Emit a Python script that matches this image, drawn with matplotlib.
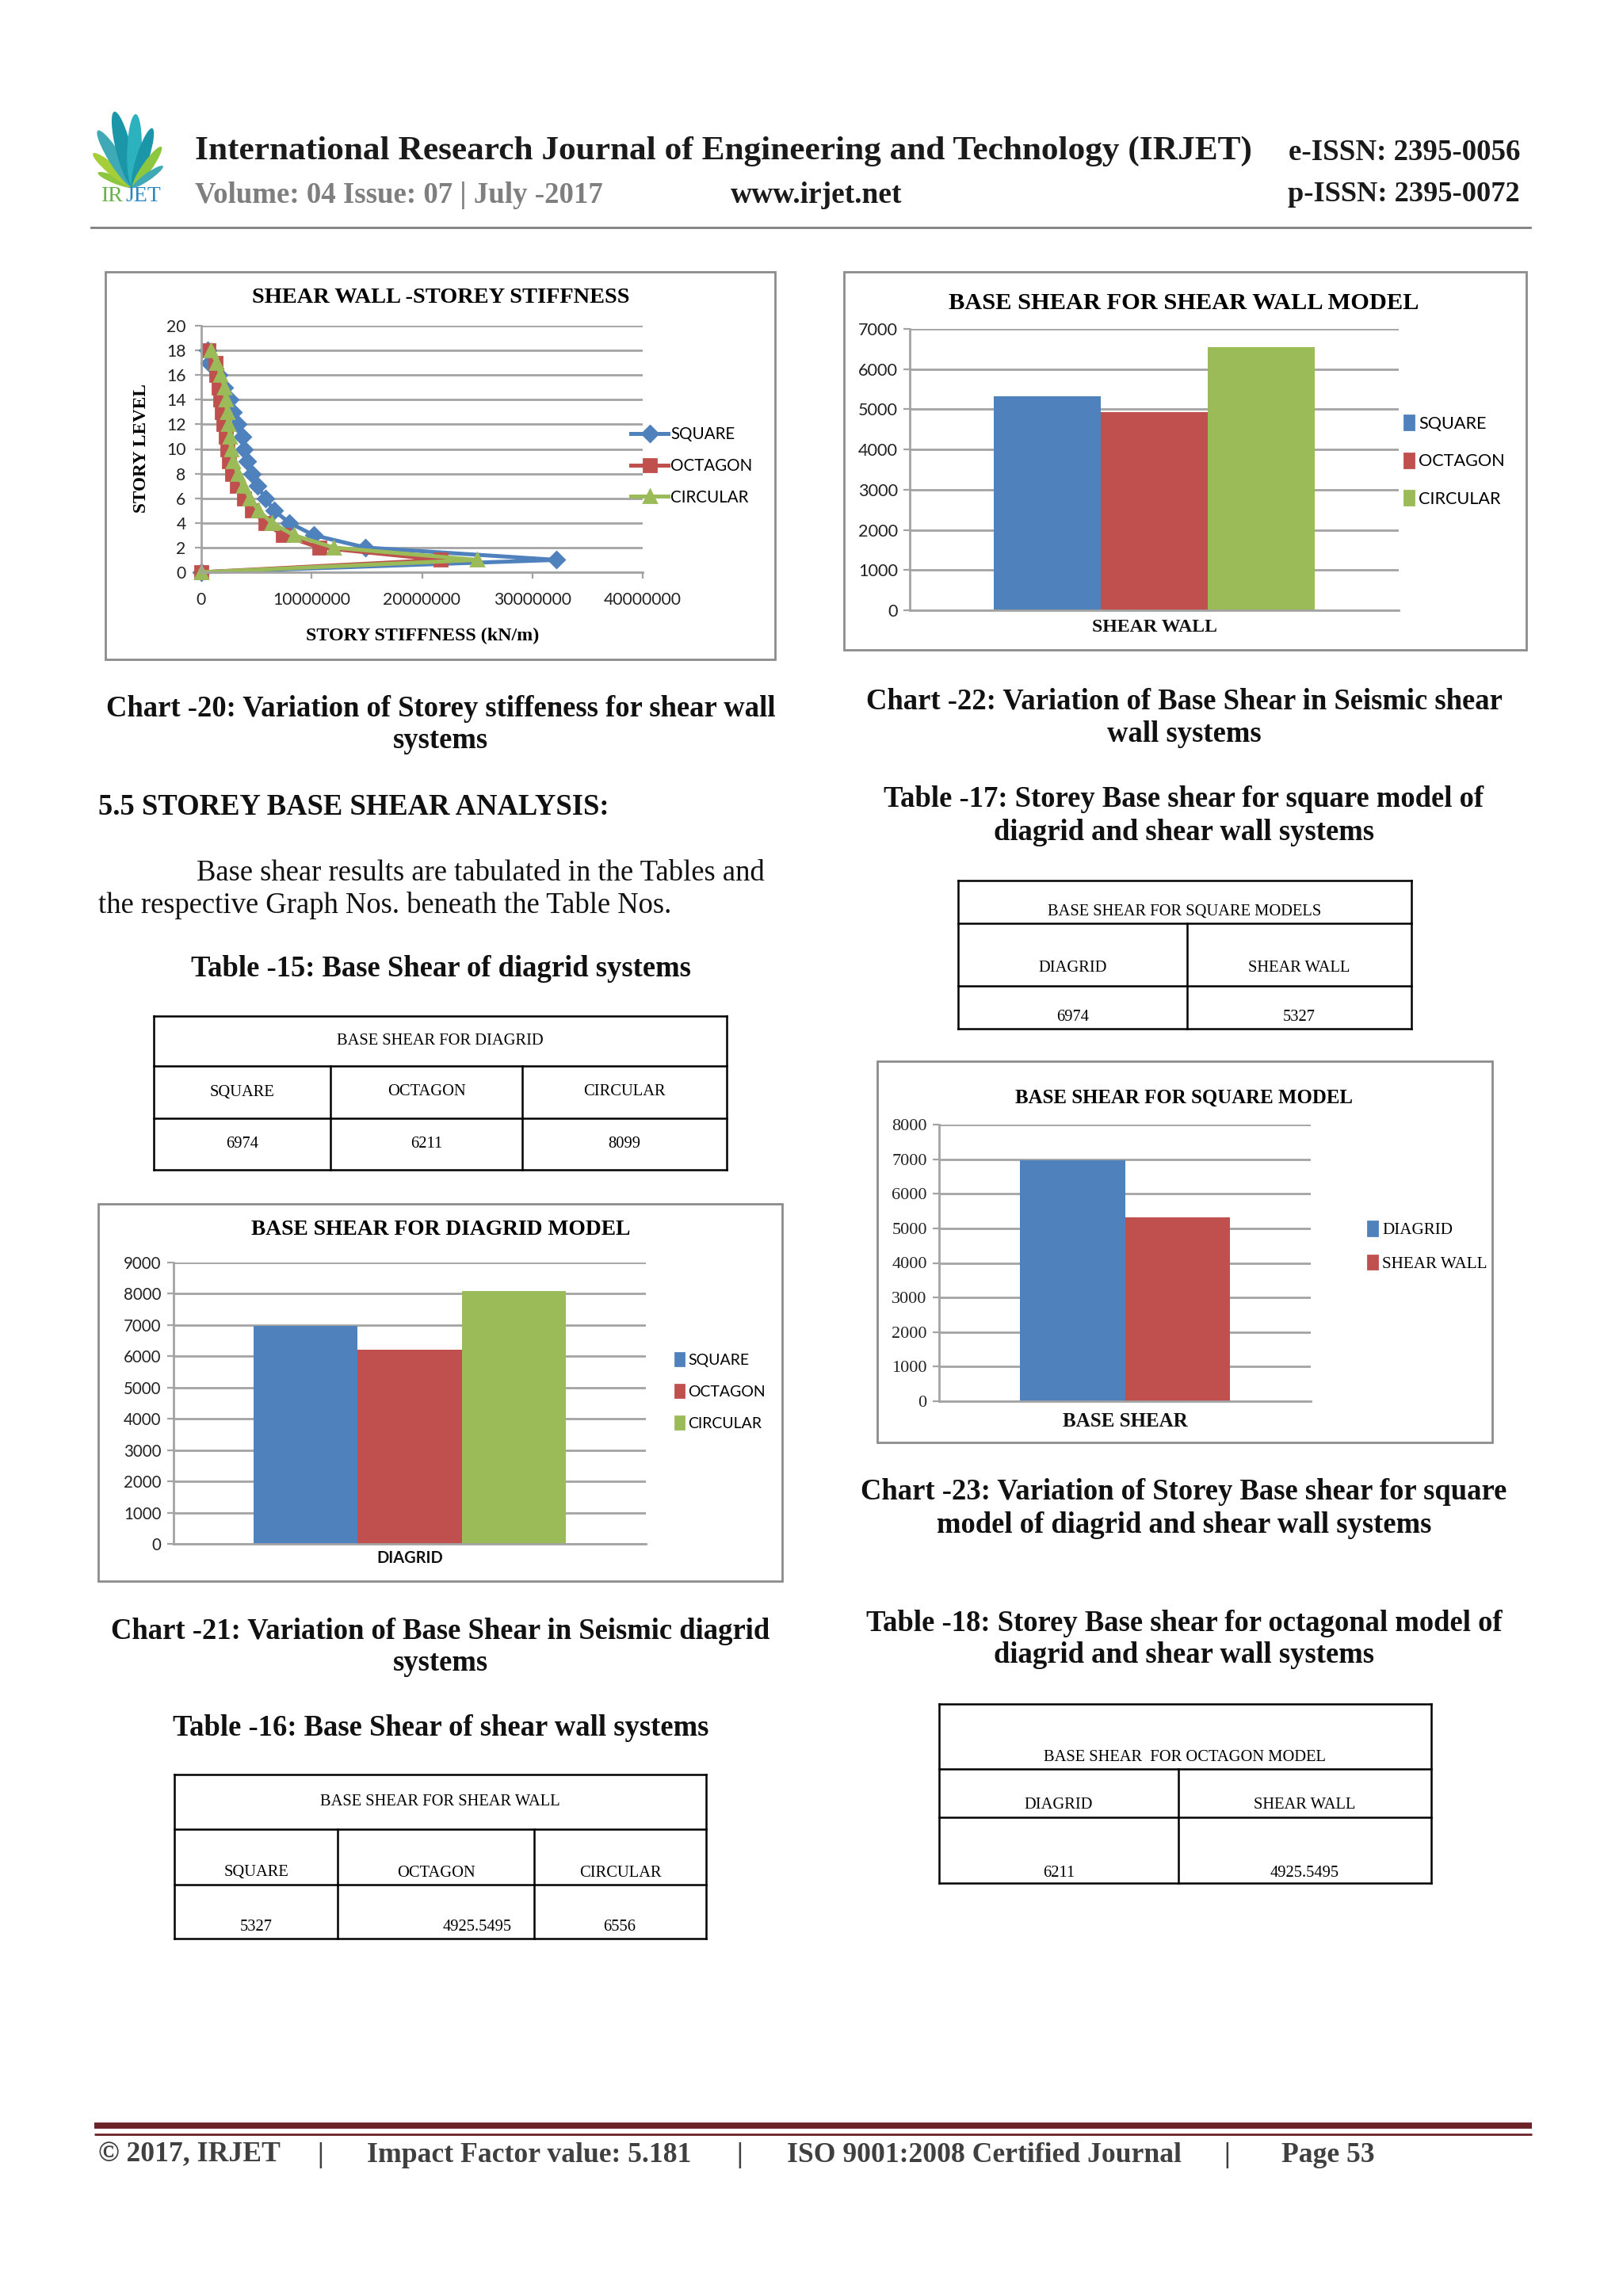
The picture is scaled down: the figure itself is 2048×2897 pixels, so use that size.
import math
import matplotlib
matplotlib.use("Agg")
import matplotlib.pyplot as plt
from matplotlib.patches import Rectangle, Ellipse, Patch

# ---------------- data ----------------
story_levels = list(range(19))
stiff_square = [0, 32200000, 14900000, 10200000, 8000000, 6600000, 5800000, 5100000,
                4600000, 4200000, 3900000, 3700000, 3300000, 2900000, 2600000, 2100000,
                1600000, 700000, 600000]
stiff_octagon = [0, 21700000, 10700000, 7400000, 5800000, 4600000, 3900000, 3200000,
                 2800000, 2500000, 2350000, 2200000, 2000000, 1900000, 1750000, 1600000,
                 1400000, 1270000, 670000]
stiff_circular = [0, 25000000, 12000000, 8400000, 6400000, 5200000, 4400000, 3800000,
                  3300000, 2900000, 2700000, 2600000, 2450000, 2350000, 2200000, 2100000,
                  1750000, 1400000, 860000]
stiff_xticks = [0, 10000000, 20000000, 30000000, 40000000]
level_ticks = list(range(0, 21, 2))

shapes = ["SQUARE", "OCTAGON", "CIRCULAR"]
systems = ["DIAGRID", "SHEAR WALL"]
diagrid_base_shear = [6974, 6211, 8099]
shearwall_base_shear = [5327, 4925.5495, 6556]
square_model_base_shear = [6974, 5327]
octagon_model_base_shear = [6211, 4925.5495]

series_colors = ["#4F81BD", "#C0504D", "#9BBB59"]
GRID = "#A3A3A3"

# ---------------- figure ----------------
W, H = 2048, 2897
DPI = 200
plt.rcParams["font.family"] = ["Liberation Serif", "DejaVu Sans"]
fig = plt.figure(figsize=(W / DPI, H / DPI), dpi=DPI)
fig.patch.set_facecolor("white")
bg = fig.add_axes([0, 0, 1, 1])
bg.set_xlim(0, W)
bg.set_ylim(H, 0)
bg.axis("off")
renderer = fig.canvas.get_renderer()


def px_rect(x0, y0, x1, y1):
    return [x0 / W, 1 - y1 / H, (x1 - x0) / W, (y1 - y0) / H]


def txt(x, y, s, size=10, ha="left", va="center", **kw):
    return bg.text(x, y, s, fontsize=size, ha=ha, va=va, **kw)


def fit(t, width):
    w = t.get_window_extent(renderer).width
    t.set_fontsize(t.get_fontsize() * width / w)
    return t.get_fontsize()


def fmt(v):
    return str(v)


# ---------------- header ----------------
base = (168, 236)
leaves = [(158, 48, "#8DC63F"), (140, 66, "#A6CE39"), (122, 84, "#3FA9B5"),
          (104, 98, "#1B96A8"), (88, 92, "#2CB1BE"), (72, 78, "#1B96A8"),
          (55, 62, "#8DC63F"), (35, 46, "#3FA9B5")]
for a, L, c in leaves:
    r = math.radians(a)
    cx = base[0] + math.cos(r) * L / 2
    cy = base[1] - math.sin(r) * L / 2
    bg.add_patch(Ellipse((cx, cy), L, L * 0.2, angle=-a, color=c, lw=0))
txt(128, 248, "IR", 10, color="#6AB04C")
txt(158, 248, "JET", 10, color="#2E86C1")

t = txt(246, 191, "International Research Journal of Engineering and Technology (IRJET)",
        15, fontweight="bold", color="#1A1A1A")
fit(t, 1332)
t = txt(1918, 193, "e-ISSN: 2395-0056", 12, ha="right", fontweight="bold", color="#1A1A1A")
fit(t, 292)
t = txt(1918, 246, "p-ISSN: 2395-0072", 12, ha="right", fontweight="bold", color="#1A1A1A")
fit(t, 292)
t = txt(246, 246, "Volume: 04 Issue: 07 | July -2017", 12, fontweight="bold", color="#7F7F7F")
fit(t, 516)
t = txt(922, 246, "www.irjet.net", 12, fontweight="bold", color="#1A1A1A")
fit(t, 216)
bg.plot([115, 1931], [287, 287], color="#7F7F7F", lw=1.0)

# ---------------- body text ----------------
cap_probe = txt(556, 894, "Chart -20: Variation of Storey stiffeness for shear wall", 11,
                ha="center", fontweight="bold", color="#111111")
CAP = fit(cap_probe, 845)


def cap(x, y, s, **kw):
    kw.setdefault("fontweight", "bold")
    return txt(x, y, s, CAP, color="#111111", **kw)


cap(556, 935, "systems", ha="center")
cap(124, 1019, "5.5 STOREY BASE SHEAR ANALYSIS:")
cap(248, 1102, "Base shear results are tabulated in the Tables and", fontweight="normal")
cap(124, 1143, "the respective Graph Nos. beneath the Table Nos.", fontweight="normal")
cap(556, 1222, "Table -15: Base Shear of diagrid systems", ha="center")
cap(556, 2058, "Chart -21: Variation of Base Shear in Seismic diagrid", ha="center")
cap(556, 2098, "systems", ha="center")
cap(556, 2180, "Table -16: Base Shear of shear wall systems", ha="center")

cap(1494, 885, "Chart -22: Variation of Base Shear in Seismic shear", ha="center")
cap(1494, 926, "wall systems", ha="center")
cap(1494, 1009, "Table -17: Storey Base shear for square model of", ha="center")
cap(1494, 1050, "diagrid and shear wall systems", ha="center")
cap(1494, 1883, "Chart -23: Variation of Storey Base shear for square", ha="center")
cap(1494, 1924, "model of diagrid and shear wall systems", ha="center")
cap(1494, 2048, "Table -18: Storey Base shear for octagonal model of", ha="center")
cap(1494, 2089, "diagrid and shear wall systems", ha="center")

# ---------------- tables ----------------
TFS = 7.4


def table(xs, ys):
    x0, x1 = xs[0], xs[-1]
    for y in ys:
        bg.plot([x0, x1], [y, y], color="black", lw=0.9, solid_capstyle="projecting")
    bg.plot([x0, x0], [ys[0], ys[-1]], color="black", lw=0.9)
    bg.plot([x1, x1], [ys[0], ys[-1]], color="black", lw=0.9)
    for x in xs[1:-1]:
        bg.plot([x, x], [ys[1], ys[-1]], color="black", lw=0.9)


# Table 15
xs = [194, 417, 659, 917]
table(xs, [1282, 1345, 1411, 1476])
txt(555, 1313, "BASE SHEAR FOR DIAGRID", TFS, ha="center")
for i in range(3):
    cx = (xs[i] + xs[i + 1]) / 2
    txt(cx, 1378, shapes[i], TFS, ha="center")
    txt(cx, 1443, fmt(diagrid_base_shear[i]), TFS, ha="center")

# Table 16
xs = [220, 426, 674, 891]
table(xs, [2239, 2308, 2378, 2446])
txt(555, 2274, "BASE SHEAR FOR SHEAR WALL", TFS, ha="center")
val_x = [323, 602, 782]
for i in range(3):
    cx = (xs[i] + xs[i + 1]) / 2
    txt(cx, 2363, shapes[i], TFS, ha="center")
    txt(val_x[i], 2432, fmt(shearwall_base_shear[i]), TFS, ha="center")

# Table 17
xs = [1209, 1498, 1781]
table(xs, [1111, 1165, 1244, 1298])
txt(1495, 1150, "BASE SHEAR FOR SQUARE MODELS", TFS, ha="center")
for i in range(2):
    cx = (xs[i] + xs[i + 1]) / 2
    txt(cx, 1222, systems[i], TFS, ha="center")
    txt(cx, 1283, fmt(square_model_base_shear[i]), TFS, ha="center")

# Table 18
xs = [1185, 1487, 1806]
table(xs, [2150, 2232, 2293, 2376])
txt(1495, 2217, "BASE SHEAR  FOR OCTAGON MODEL", TFS, ha="center")
for i in range(2):
    cx = (xs[i] + xs[i + 1]) / 2
    txt(cx, 2278, systems[i], TFS, ha="center")
    txt(cx, 2363, fmt(octagon_model_base_shear[i]), TFS, ha="center")

# ---------------- chart boxes ----------------
for (x0, y0, x1, y1) in [(133, 343, 978, 832), (1065, 343, 1926, 820),
                         (124, 1519, 987, 1995), (1107, 1339, 1883, 1820)]:
    bg.add_patch(Rectangle((x0, y0), x1 - x0, y1 - y0, fill=False, ec="#8C8C8C", lw=1.0))


def style_axes(ax, sans=True, size=7.6):
    for s in ["top", "right"]:
        ax.spines[s].set_visible(False)
    for s in ["left", "bottom"]:
        ax.spines[s].set_color(GRID)
        ax.spines[s].set_linewidth(1.0)
    ax.grid(axis="y", color=GRID, lw=1.0)
    ax.set_axisbelow(True)
    fam = ["Lato", "DejaVu Sans"] if sans else ["Liberation Serif", "DejaVu Sans"]
    for lab in ax.get_xticklabels() + ax.get_yticklabels():
        lab.set_family(fam)
        lab.set_fontsize(size)
        lab.set_color("#222222")


# ---------------- Chart 20: storey stiffness ----------------
ax1 = fig.add_axes(px_rect(254, 411, 811, 722))
markers = ["D", "s", "^"]
msizes = [5, 5.5, 6]
lines = []
for vals, c, m, ms, name in zip([stiff_square, stiff_octagon, stiff_circular],
                                series_colors, markers, msizes, shapes):
    ln, = ax1.plot(vals, story_levels, color=c, marker=m, ms=ms, lw=1.8,
                   label=name, clip_on=False)
    lines.append(ln)
ax1.set_xlim(0, 40000000)
ax1.set_ylim(0, 20)
ax1.set_xticks(stiff_xticks)
ax1.set_xticklabels([str(v) for v in stiff_xticks])
ax1.set_yticks(level_ticks)
ax1.set_yticklabels([str(v) for v in level_ticks])
ax1.tick_params(axis="x", length=3, color=GRID, pad=6)
ax1.tick_params(axis="y", length=3, color=GRID, pad=4)
style_axes(ax1, True, 7.6)
t = txt(556, 376, "SHEAR WALL -STOREY STIFFNESS", 9, ha="center", fontweight="bold")
fit(t, 478)
t = txt(533, 802, "STORY STIFFNESS (kN/m)", 8, ha="center", fontweight="bold")
fit(t, 294)
t = txt(178, 566, "STORY LEVEL", 8, ha="center", fontweight="bold", rotation=90)
t.set_fontsize(t.get_fontsize() * 163 / t.get_window_extent(renderer).height)
fig.legend(handles=lines, loc="center left", bbox_to_anchor=(796 / W, 1 - 588 / H),
           frameon=False, prop={"family": ["Lato"], "size": 7.4}, handlelength=2.3,
           handletextpad=0.15, labelspacing=0.95, borderaxespad=0, borderpad=0)


# ---------------- bar chart helper ----------------
def bar_chart(rect, values, labels, category, ymax, offsets, width, cat_fam, cat_size,
              cat_weight, cat_pad, tick_sans, tick_size, leg_anchor, leg_size, leg_fam,
              leg_spacing):
    ax = fig.add_axes(px_rect(*rect))
    handles = []
    for i, v in enumerate(values):
        ax.bar(offsets[i], v, width=width, color=series_colors[i], label=labels[i])
        handles.append(Patch(color=series_colors[i], label=labels[i]))
    ax.set_xlim(-0.5, 0.5)
    ax.set_ylim(0, ymax)
    yt = list(range(0, ymax + 1, 1000))
    ax.set_yticks(yt)
    ax.set_yticklabels([str(v) for v in yt])
    ax.set_xticks([0])
    ax.set_xticklabels([category])
    ax.tick_params(axis="x", length=0, pad=cat_pad)
    ax.tick_params(axis="y", length=3, color=GRID, pad=2.5)
    style_axes(ax, tick_sans, tick_size)
    for lab in ax.get_xticklabels():
        lab.set_family(cat_fam)
        lab.set_fontsize(cat_size)
        lab.set_fontweight(cat_weight)
        lab.set_color("#111111")
    fig.legend(handles=handles, loc="center left", bbox_to_anchor=leg_anchor,
               frameon=False, prop={"family": leg_fam, "size": leg_size},
               handlelength=0.55, handleheight=0.9, handletextpad=0.3,
               labelspacing=leg_spacing, borderaxespad=0, borderpad=0)
    return ax


# Chart 21: diagrid
bar_chart((219, 1593, 815, 1948), diagrid_base_shear, shapes, systems[0], 9000,
          [-0.22, 0, 0.22], 0.22, ["Lato"], 7.2, "bold", 3,
          True, 7.4, (852 / W, 1 - 1756 / H), 7.0, ["Lato"], 1.15)
t = txt(556, 1552, "BASE SHEAR FOR DIAGRID MODEL", 9, ha="center", fontweight="bold")
fit(t, 480)

# Chart 22: shear wall
bar_chart((1148, 415, 1765, 770), shearwall_base_shear, shapes, systems[1], 7000,
          [-0.219, 0, 0.219], 0.219, ["Liberation Serif"], 8.6, "bold", 4,
          True, 7.8, (1772 / W, 1 - 582 / H), 7.8, ["Lato"], 1.25)
t = txt(1494, 383, "BASE SHEAR FOR SHEAR WALL MODEL", 10, ha="center", fontweight="bold")
fit(t, 593)

# Chart 23: square model
bar_chart((1185, 1419, 1654, 1768), square_model_base_shear, systems, "BASE SHEAR", 8000,
          [-0.1413, 0.1413], 0.2826, ["Liberation Serif"], 9.0, "bold", 5,
          False, 8.0, (1726 / W, 1 - 1573 / H), 7.6, ["Liberation Serif"], 1.0)
t = txt(1494, 1385, "BASE SHEAR FOR SQUARE MODEL", 10, ha="center", fontweight="bold")
fit(t, 426)

# ---------------- footer ----------------
bg.plot([119, 1933], [2682, 2682], color="#6B2328", lw=2.8, solid_capstyle="butt")
bg.plot([119, 1933], [2693, 2693], color="#6B2328", lw=1.0, solid_capstyle="butt")
t = txt(993, 2719, "ISO 9001:2008 Certified Journal", 11, fontweight="bold", color="#404040")
FS = fit(t, 498)
txt(124, 2719, "\u00a9 2017, IRJET", FS, fontweight="bold", color="#404040")
txt(463, 2719, "Impact Factor value: 5.181", FS, fontweight="bold", color="#404040")
txt(1617, 2719, "Page 53", FS, fontweight="bold", color="#404040")
for x in [404, 933, 1548]:
    txt(x, 2719, "|", FS, ha="center", fontweight="bold", color="#404040")

fig.savefig("out.png", dpi=DPI, facecolor="white")
